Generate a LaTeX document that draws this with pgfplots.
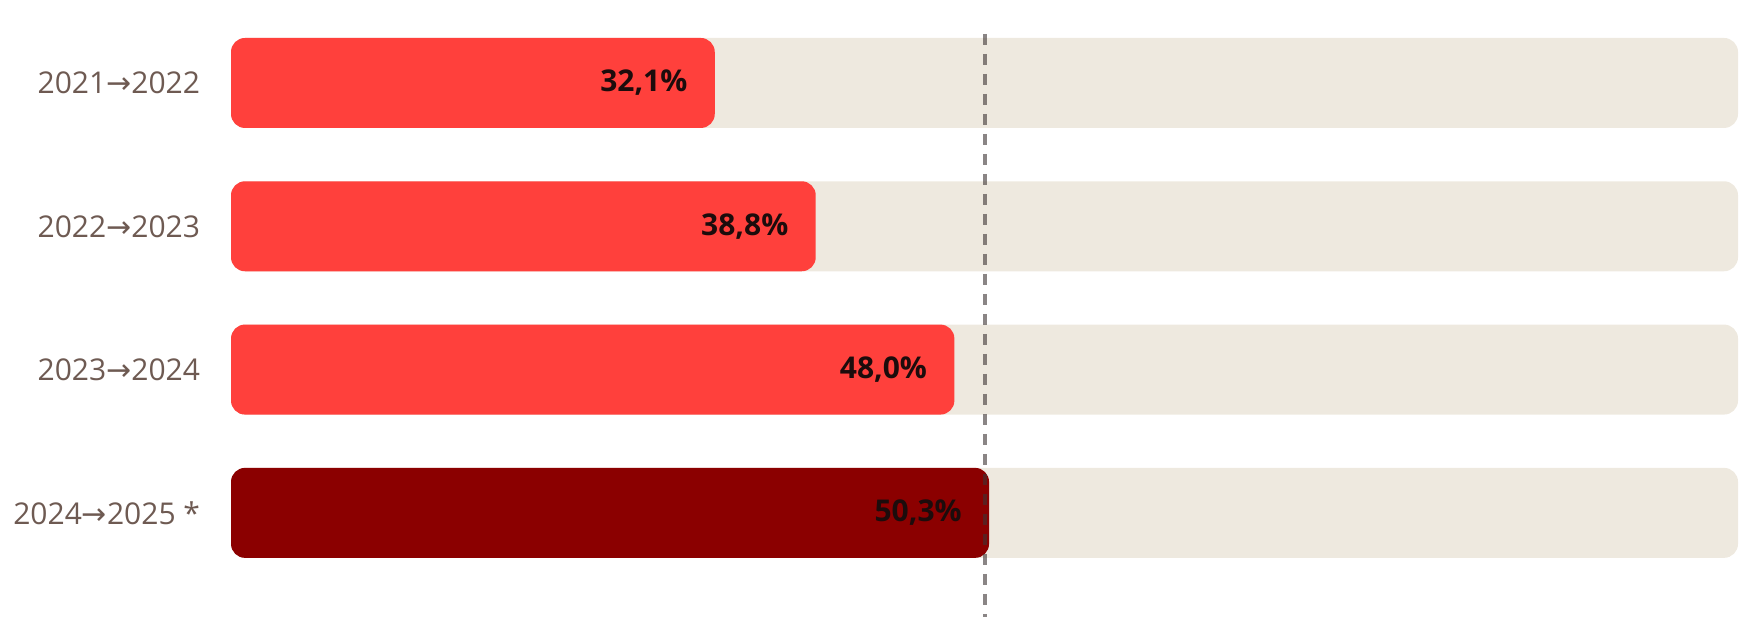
\documentclass[border=0pt]{standalone}
\usepackage{fontspec}
\setmainfont{Open Sans}
\newfontfamily\arrowfont{DejaVu Sans}
\usepackage{pgfplots}
\pgfplotsset{compat=1.18}
\definecolor{barred}{RGB}{255,64,60}
\definecolor{bardark}{RGB}{139,0,0}
\definecolor{track}{RGB}{238,233,223}
\definecolor{lab}{RGB}{110,90,82}
\definecolor{valtxt}{RGB}{28,12,12}
\definecolor{dashc}{RGB}{60,52,52}
\newcommand{\arr}{{\arrowfont →}}
\pgfplotsset{
  mybar/.style={xbar, bar width=45pt, bar shift=0pt, draw=none, rounded corners=7pt},
  myval/.style={nodes near coords, point meta=explicit symbolic,
    every node near coord/.append style={anchor=east, xshift=-13.5pt, inner sep=0pt,
      font=\bfseries\fontsize{15}{18}\selectfont, text=valtxt}}
}
\pgfplotstableread{
x y lab
32.1 0 32,1\%
38.8 1 38,8\%
48.0 2 48,0\%
}\redtab
\pgfplotstableread{
x y lab
50.3 3 50,3\%
}\darktab
\begin{document}
\begin{tikzpicture}
\begin{axis}[
  scale only axis, width=753.5pt, height=286.6pt,
  xmin=0, xmax=100, ymin=-0.5, ymax=3.5, y dir=reverse,
  axis line style={draw=none}, major tick length=0pt,
  xtick=\empty, ytick={0,1,2,3},
  yticklabels={2021\arr2022, 2022\arr2023, 2023\arr2024, 2024\arr2025 *},
  yticklabel style={font=\fontsize{15}{18}\selectfont, text=lab, anchor=east, inner sep=0pt, xshift=-15.3pt},
  clip=false,
]
\addplot[mybar, fill=track] coordinates {(100,0) (100,1) (100,2) (100,3)};
\addplot[mybar, fill=barred, myval] table[x=x, y=y, meta=lab] {\redtab};
\addplot[mybar, fill=bardark, myval] table[x=x, y=y, meta=lab] {\darktab};
\addplot[mark=none, draw=dashc, opacity=0.6, line width=2pt, dash pattern=on 5.5pt off 4.5pt] coordinates {(50,-0.342) (50,3.726)};
\coordinate (tl) at (axis cs:-15.33,-0.579);
\coordinate (br) at (axis cs:101.46,3.901);
\end{axis}
\pgfresetboundingbox
\useasboundingbox (tl) rectangle (br);
\end{tikzpicture}
\end{document}
